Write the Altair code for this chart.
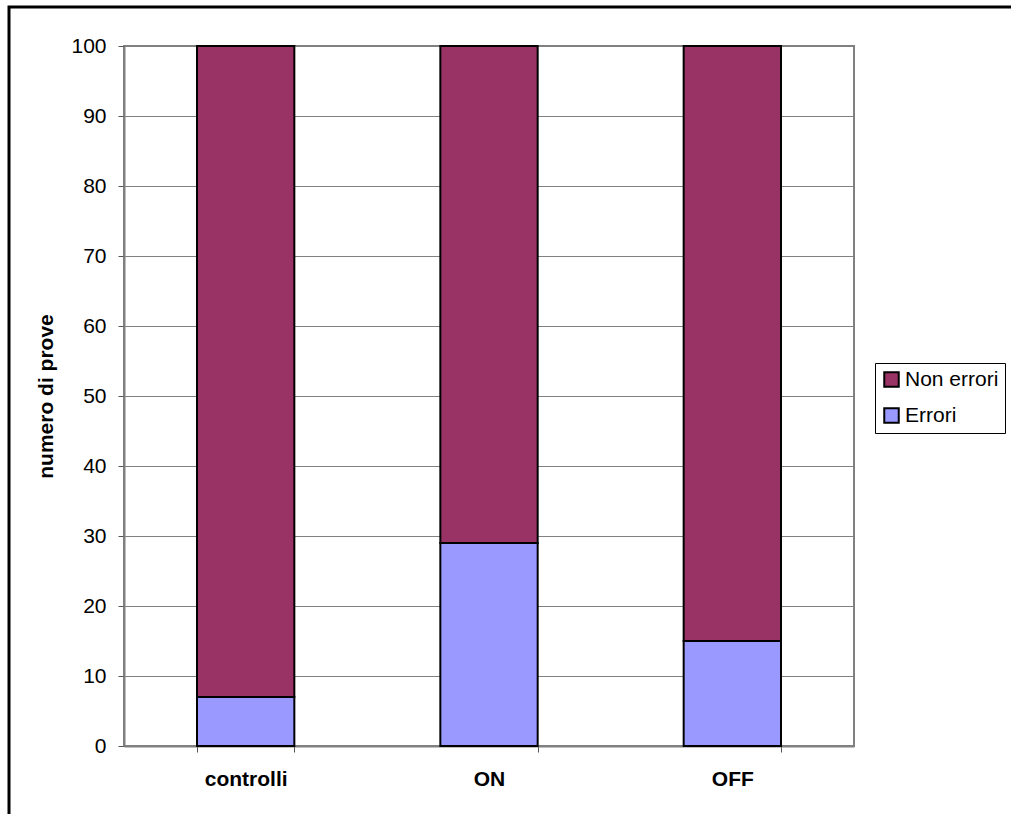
import altair as alt
import pandas as pd

categories = ["controlli", "ON", "OFF"]
errori = [7, 29, 15]
non_errori = [93, 71, 85]
series = ["Non errori", "Errori"]
colors = ["#993366", "#9999FF"]
y_ticks = list(range(0, 101, 10))

rows = []
for c, e, n in zip(categories, errori, non_errori):
    rows.append({"cat": c, "serie": "Errori", "value": e, "ord": 0})
    rows.append({"cat": c, "serie": "Non errori", "value": n, "ord": 1})
df = pd.DataFrame(rows)

FONT = "Liberation Sans"

bars = alt.Chart(df).mark_bar(stroke="black", strokeWidth=2).encode(
    x=alt.X(
        "cat:N",
        sort=categories,
        scale=alt.Scale(paddingInner=0.6, paddingOuter=0.3),
        axis=alt.Axis(
            title=None,
            labelAngle=0,
            labelFontWeight="bold",
            labelFontSize=21,
            labelFont=FONT,
            labelColor="black",
            labelPadding=16,
            tickSize=6,
            tickColor="#555555",
            tickBand="extent",
            domainColor="#808080",
            domainWidth=2,
            grid=False,
        ),
    ),
    y=alt.Y(
        "value:Q",
        stack="zero",
        scale=alt.Scale(domain=[0, 100], nice=False),
        axis=alt.Axis(
            values=y_ticks,
            title="numero di prove",
            titleFont=FONT,
            titleFontSize=21,
            titleFontWeight="bold",
            titleColor="black",
            titlePadding=14,
            labelFont=FONT,
            labelFontSize=21,
            labelColor="black",
            labelPadding=12,
            tickSize=6,
            tickColor="#555555",
            domainColor="#808080",
            domainWidth=2,
            grid=True,
            gridColor="#808080",
            gridWidth=1,
        ),
    ),
    color=alt.Color(
        "serie:N",
        scale=alt.Scale(domain=series, range=colors),
        legend=alt.Legend(
            title=None,
            orient="none",
            legendX=751,
            legendY=317,
            labelFont=FONT,
            labelFontSize=21,
            labelColor="black",
            symbolType="square",
            symbolSize=210,
            symbolStrokeColor="black",
            symbolStrokeWidth=2,
            symbolOpacity=1,
            labelOffset=3,
            rowPadding=13,
            strokeColor="black",
            fillColor="white",
            padding=6,
        ),
    ),
    order=alt.Order("ord:Q", sort="ascending"),
)

frame = alt.Chart(alt.Data(values=[{"a": 1}])).mark_rect(
    fillOpacity=0, stroke="black", strokeWidth=3
).encode(
    x=alt.value(-115), x2=alt.value(2000), y=alt.value(-39), y2=alt.value(2000)
)

chart = alt.layer(bars, frame).properties(
    width=730,
    height=700,
    autosize=alt.AutoSizeParams(type="none"),
    padding={"left": 124, "top": 46, "right": 157, "bottom": 68},
    background="white",
).configure_view(stroke="#808080", strokeWidth=2)

chart.save("out.html", embed_options={"renderer": "svg", "actions": False})
